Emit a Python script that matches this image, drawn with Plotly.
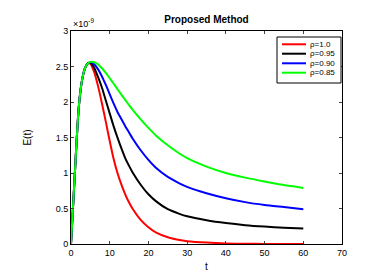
import plotly.graph_objects as go

t = [0, 0.5, 1, 1.5, 2, 2.5, 3, 3.5, 4, 4.5, 5, 6, 7, 8, 9, 10, 11, 12, 13, 14, 15, 16, 18, 20, 22, 25, 28, 30, 35, 40, 45, 50, 55, 60]

e_10 = [0, 0.5, 1.0, 1.5, 1.92, 2.18, 2.35, 2.46, 2.52, 2.55, 2.54, 2.42, 2.22, 1.98, 1.72, 1.45, 1.2, 1.0, 0.84, 0.70, 0.585, 0.49, 0.34, 0.235, 0.16, 0.095, 0.055, 0.04, 0.02, 0.008, 0.003, 0.001, 0.0005, 0.0]
e_095 = [0, 0.5, 1.0, 1.5, 1.92, 2.18, 2.35, 2.46, 2.52, 2.55, 2.55, 2.48, 2.35, 2.2, 2.02, 1.84, 1.66, 1.5, 1.35, 1.21, 1.1, 1.0, 0.835, 0.70, 0.60, 0.49, 0.425, 0.39, 0.335, 0.295, 0.265, 0.245, 0.23, 0.22]
e_090 = [0, 0.5, 1.0, 1.5, 1.92, 2.18, 2.35, 2.46, 2.52, 2.55, 2.56, 2.53, 2.46, 2.36, 2.24, 2.11, 1.98, 1.86, 1.76, 1.66, 1.57, 1.48, 1.32, 1.185, 1.07, 0.945, 0.855, 0.805, 0.715, 0.645, 0.59, 0.55, 0.52, 0.49]
e_085 = [0, 0.5, 1.0, 1.5, 1.92, 2.18, 2.35, 2.46, 2.52, 2.55, 2.565, 2.56, 2.53, 2.475, 2.41, 2.335, 2.26, 2.18, 2.105, 2.03, 1.955, 1.885, 1.755, 1.635, 1.525, 1.39, 1.275, 1.21, 1.09, 1.0, 0.935, 0.88, 0.83, 0.79]

names = ["\u03c1=1.0", "\u03c1=0.95", "\u03c1=0.90", "\u03c1=0.85"]
values = [e_10, e_095, e_090, e_085]
colors = ["#ff0000", "#000000", "#0000ff", "#00ff00"]

xticks = [0, 10, 20, 30, 40, 50, 60, 70]
yticks = [0, 0.5, 1, 1.5, 2, 2.5, 3]

fig = go.Figure()
for name, vals, col in zip(names, values, colors):
    fig.add_trace(go.Scatter(x=t, y=vals, mode="lines", name=name,
                             line=dict(color=col, width=2, shape="spline", smoothing=0.6)))

# page has an 8px body margin, so the figure is laid out 8px smaller/shifted
OFF = 8
W, H = 378 - OFF, 273 - OFF
L, R, T, B = 71 - OFF, W - (342 - OFF), 31 - OFF, H - (244 - OFF)
PW, PH = W - L - R, H - T - B

font = "Liberation Sans, Arial, sans-serif"
fig.update_layout(
    width=W, height=H,
    margin=dict(l=L, r=R, t=T, b=B, autoexpand=False),
    paper_bgcolor="white", plot_bgcolor="white",
    font=dict(family=font, size=9, color="#000"),
    title=dict(text="<b>Proposed Method</b>", x=(L + PW / 2) / W, xanchor="center",
               yref="container", y=1 - (19 - OFF) / H, yanchor="middle", font=dict(size=10)),
    xaxis=dict(range=[0, 70], tickvals=xticks, ticks="inside", ticklen=3, mirror="ticks",
               showline=True, linecolor="#000", linewidth=1, showgrid=False, zeroline=False,
               automargin=False, title=dict(text="t", standoff=6, font=dict(size=10))),
    yaxis=dict(range=[0, 3], tickvals=yticks, ticks="inside", ticklen=3, mirror="ticks",
               showline=True, linecolor="#000", linewidth=1, showgrid=False, zeroline=False,
               automargin=False, title=dict(text="E(t)", standoff=22, font=dict(size=10))),
    showlegend=False,
)

# legend box (paper coordinates), given in page pixels
def px(x):
    return (x - OFF - L) / PW

def py(y):
    return (H - B - (y - OFF)) / PH

fig.add_shape(type="rect", xref="paper", yref="paper", x0=px(277), x1=px(341), y0=py(83), y1=py(37),
              line=dict(color="#000", width=1), fillcolor="white", layer="above")
entry_y = [44.3, 53.7, 63.3, 72.7]
for name, col, ey in zip(names, colors, entry_y):
    fig.add_shape(type="line", xref="paper", yref="paper", x0=px(282), x1=px(306), y0=py(ey), y1=py(ey),
                  line=dict(color=col, width=2), layer="above")
    fig.add_annotation(text=name, xref="paper", yref="paper", x=px(308), y=py(ey),
                       xanchor="left", yanchor="middle", showarrow=False, font=dict(size=8))

fig.add_annotation(text="\u00d710<sup>-9</sup>", xref="paper", yref="paper", x=0, y=1,
                   xanchor="left", yanchor="bottom", showarrow=False, font=dict(size=9))
fig.write_html("out.html")
